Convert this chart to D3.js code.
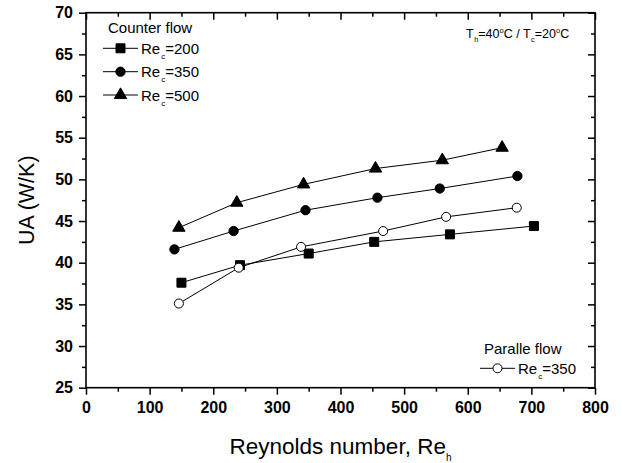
<!DOCTYPE html>
<html>
<head>
<meta charset="utf-8">
<script src="https://cdn.jsdelivr.net/npm/d3@7"></script>
<style>
  html, body { margin: 0; padding: 0; background: #fff; }
  svg { display: block; font-family: "Liberation Sans", Arial, sans-serif; }
</style>
</head>
<body>
<svg id="chart" width="622" height="463"></svg>
<script>
// ---- Data ----
const reh200 = [150, 242, 350, 453, 572, 704];
const ua200  = [37.6, 39.7, 41.1, 42.5, 43.4, 44.4];
const reh350 = [139, 232, 345, 458, 556, 678];
const ua350  = [41.6, 43.8, 46.3, 47.8, 48.9, 50.4];
const reh500 = [146, 237, 342, 455, 560, 654];
const ua500  = [44.2, 47.2, 49.4, 51.3, 52.3, 53.8];
const rehPar = [146, 240, 338, 467, 566, 677];
const uaPar  = [35.1, 39.4, 41.9, 43.8, 45.5, 46.6];

const xTicks = [0, 100, 200, 300, 400, 500, 600, 700, 800];
const yTicks = [25, 30, 35, 40, 45, 50, 55, 60, 65, 70];
const xMinor = [50, 150, 250, 350, 450, 550, 650, 750];
const yMinor = [27.5, 32.5, 37.5, 42.5, 47.5, 52.5, 57.5, 62.5, 67.5];

const counterLabels = ["200", "350", "500"];
const parallelLabel = "350";

// ---- Layout ----
const svg = d3.select("#chart");
const L = 86, R = 595, T = 12.7, B = 387.7;
const x = d3.scaleLinear().domain([0, 800]).range([L, R]);
const y = d3.scaleLinear().domain([25, 70]).range([B, T]);

const FONT = '"Liberation Sans", Arial, sans-serif';

function styleAxis(g, showLabels) {
  g.attr("font-family", FONT).attr("font-size", 16).attr("font-weight", "bold");
  g.select(".domain").remove();
  g.selectAll(".tick line").attr("stroke", "#000").attr("stroke-width", 1.5);
  if (!showLabels) g.selectAll(".tick text").remove();
  g.selectAll(".tick text").attr("fill", "#000");
}

// bottom axis
svg.append("g").attr("transform", `translate(0,${B})`)
  .call(d3.axisBottom(x).tickValues(xTicks).tickSize(7).tickPadding(7).tickFormat(d3.format("d")))
  .call(g => styleAxis(g, true));
svg.append("g").attr("transform", `translate(0,${B})`)
  .call(d3.axisBottom(x).tickValues(xMinor).tickSize(4).tickFormat(""))
  .call(g => styleAxis(g, false));
// left axis
svg.append("g").attr("transform", `translate(${L},0)`)
  .call(d3.axisLeft(y).tickValues(yTicks).tickSize(7).tickPadding(6).tickFormat(d3.format("d")))
  .call(g => styleAxis(g, true));
svg.append("g").attr("transform", `translate(${L},0)`)
  .call(d3.axisLeft(y).tickValues(yMinor).tickSize(4).tickFormat(""))
  .call(g => styleAxis(g, false));
// top axis (inward)
svg.append("g").attr("transform", `translate(0,${T})`)
  .call(d3.axisBottom(x).tickValues(xTicks).tickSize(7).tickFormat(""))
  .call(g => styleAxis(g, false));
svg.append("g").attr("transform", `translate(0,${T})`)
  .call(d3.axisBottom(x).tickValues(xMinor).tickSize(4).tickFormat(""))
  .call(g => styleAxis(g, false));
// right axis (inward)
svg.append("g").attr("transform", `translate(${R},0)`)
  .call(d3.axisLeft(y).tickValues(yTicks).tickSize(7).tickFormat(""))
  .call(g => styleAxis(g, false));
svg.append("g").attr("transform", `translate(${R},0)`)
  .call(d3.axisLeft(y).tickValues(yMinor).tickSize(4).tickFormat(""))
  .call(g => styleAxis(g, false));

// frame
svg.append("rect").attr("x", L).attr("y", T).attr("width", R - L).attr("height", B - T)
  .attr("fill", "none").attr("stroke", "#000").attr("stroke-width", 1.6);

// ---- Series ----
const series = [
  { xs: reh200, ys: ua200, sym: d3.symbolSquare, size: 81, fill: "#000" },
  { xs: reh350, ys: ua350, sym: d3.symbolCircle, size: 68, fill: "#000" },
  { xs: reh500, ys: ua500, sym: d3.symbolTriangle, size: 66, fill: "#000" },
  { xs: rehPar, ys: uaPar, sym: d3.symbolCircle, size: 64, fill: "#fff" }
];

const line = d3.line().x(d => x(d[0])).y(d => y(d[1]));
series.forEach(s => {
  const pts = s.xs.map((v, i) => [v, s.ys[i]]);
  svg.append("path").datum(pts).attr("d", line)
    .attr("fill", "none").attr("stroke", "#000").attr("stroke-width", 1);
});
series.forEach(s => {
  const pts = s.xs.map((v, i) => [v, s.ys[i]]);
  svg.append("g").selectAll("path").data(pts).join("path")
    .attr("transform", d => `translate(${x(d[0])},${y(d[1])})`)
    .attr("d", d3.symbol().type(s.sym).size(s.size))
    .attr("fill", s.fill).attr("stroke", "#000").attr("stroke-width", 1);
});

// ---- Axis titles ----
svg.append("text").attr("transform", `translate(34,${(T + B) / 2}) rotate(-90)`)
  .attr("text-anchor", "middle").attr("font-family", FONT).attr("font-size", 21.5)
  .text("UA (W/K)");

const xt = svg.append("text").attr("x", (L + R) / 2).attr("y", 454)
  .attr("text-anchor", "middle").attr("font-family", FONT).attr("font-size", 22.5);
xt.append("tspan").text("Reynolds number, Re");
xt.append("tspan").attr("font-size", 10).attr("dy", 7).text("h");

// ---- Legend: counter flow ----
svg.append("text").attr("x", 108).attr("y", 33).attr("font-family", FONT)
  .attr("font-size", 15).text("Counter flow");

function legendRow(yy, s, label, x0) {
  svg.append("line").attr("x1", x0).attr("x2", x0 + 35).attr("y1", yy).attr("y2", yy)
    .attr("stroke", "#000").attr("stroke-width", 1);
  svg.append("path").attr("transform", `translate(${x0 + 17.5},${yy})`)
    .attr("d", d3.symbol().type(s.sym).size(s.size))
    .attr("fill", s.fill).attr("stroke", "#000").attr("stroke-width", 1);
  const t = svg.append("text").attr("x", x0 + 38).attr("y", yy + 5.5)
    .attr("font-family", FONT).attr("font-size", 15);
  t.append("tspan").text("Re");
  t.append("tspan").attr("font-size", 8).attr("dy", 5).attr("dx", 1).text("c");
  t.append("tspan").attr("dy", -5).text("=" + label);
}
legendRow(48.3, series[0], counterLabels[0], 103);
legendRow(71.7, series[1], counterLabels[1], 103);
legendRow(95, series[2], counterLabels[2], 103);

// ---- Legend: parallel flow ----
svg.append("text").attr("x", 484).attr("y", 354).attr("font-family", FONT)
  .attr("font-size", 15).text("Paralle flow");
legendRow(368.3, series[3], parallelLabel, 480);

// ---- Annotation ----
const an = svg.append("text").attr("x", 466).attr("y", 38).attr("font-family", FONT)
  .attr("font-size", 12.5);
an.append("tspan").text("T");
an.append("tspan").attr("font-size", 7.5).attr("dy", 4).attr("dx", 0.5).text("h");
an.append("tspan").attr("dy", -4).text("=40");
an.append("tspan").attr("font-size", 7.5).attr("dy", -5).text("o");
an.append("tspan").attr("dy", 5).text("C / T");
an.append("tspan").attr("font-size", 7.5).attr("dy", 4).attr("dx", 0.5).text("c");
an.append("tspan").attr("dy", -4).text("=20");
an.append("tspan").attr("font-size", 7.5).attr("dy", -5).text("o");
an.append("tspan").attr("dy", 5).text("C");
</script>
</body>
</html>
